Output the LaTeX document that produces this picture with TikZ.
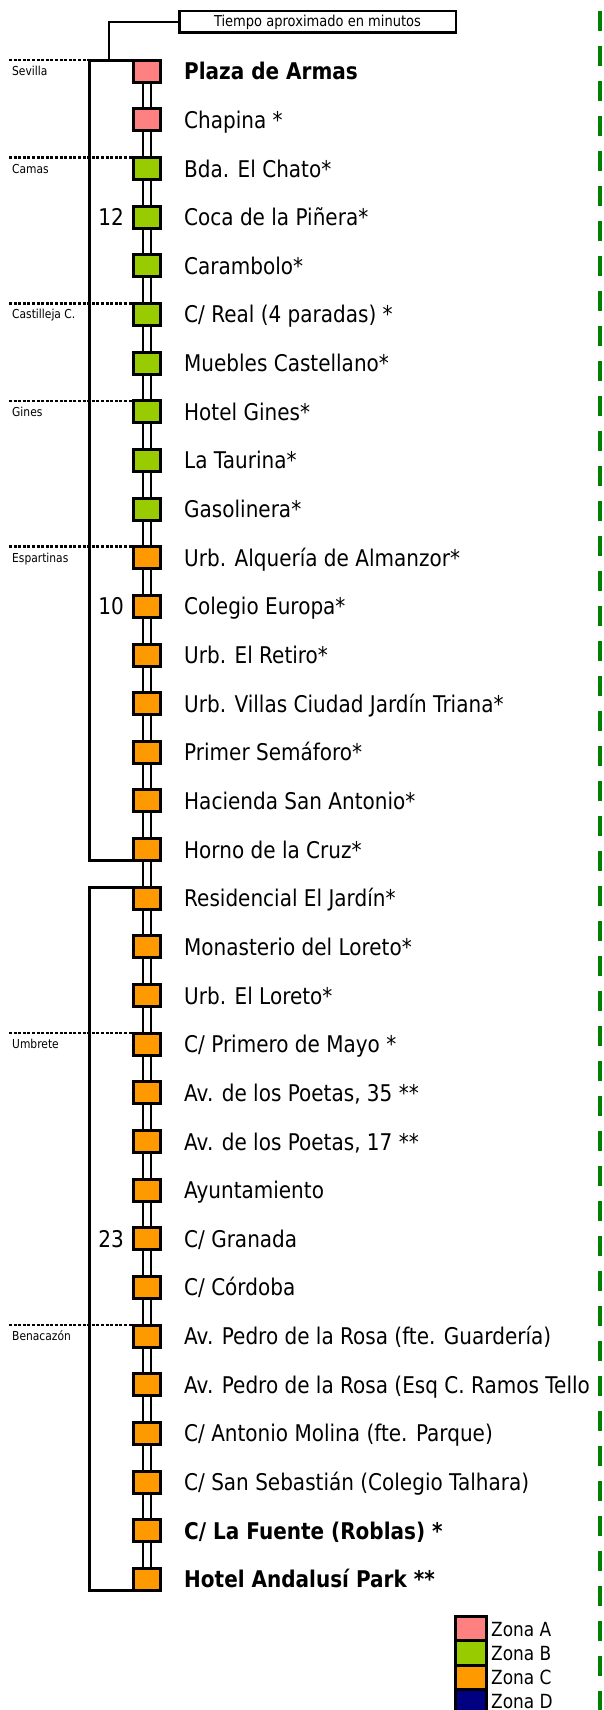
\documentclass[tikz,border=0pt]{standalone}
\usepackage{fontspec}
\setmainfont{DejaVu Sans}[FakeStretch=0.87]
\definecolor{zA}{RGB}{255,128,128}
\definecolor{zB}{RGB}{153,204,0}
\definecolor{zC}{RGB}{255,153,0}
\definecolor{zD}{RGB}{0,0,128}
\definecolor{dgreen}{RGB}{0,128,0}
\newcommand{\bstop}[3]{%
  \node[stopbox,fill=#2] (s#1) at (147,{71.2+48.65*#1}) {};
  \node[lbl] (l#1) at (184,{79.7+48.65*#1}) {#3};
}
\newcommand{\townsep}[2]{%
  \draw[dotl] (s#1.north west -| dl) -- (s#1.north west);
  \node[townlbl] (t#1) at (12,{75.7+48.65*#1}) {#2};
}
\newcommand{\minutes}[2]{%
  \node[numlbl] (n#1) at (124,{79.7+48.65*#1}) {#2};
}
\begin{document}
\begin{tikzpicture}[x=1pt,y=-1pt,
  stopbox/.style={draw=black,line width=3pt,minimum width=27pt,minimum height=22pt,inner sep=0pt,outer sep=0pt},
  lbl/.style={anchor=base west,inner sep=0pt,font=\fontsize{23}{26}\selectfont},
  numlbl/.style={anchor=base east,inner sep=0pt,font=\fontsize{23}{26}\selectfont},
  townlbl/.style={anchor=base west,inner sep=0pt,font=\fontsize{12.3}{14}\selectfont},
  conn/.style={line width=2.7pt},
  brk/.style={line width=3pt,line join=miter},
  dotl/.style={line width=2.5pt,dash pattern=on 3pt off 1.6pt},
  leader/.style={line width=1.3pt},
  legbox/.style={draw=black,line width=3pt,minimum width=31pt,minimum height=24.3pt,inner sep=0pt,outer sep=0pt},
  leglbl/.style={anchor=base west,inner sep=0pt,font=\fontsize{19.5}{22}\selectfont},
  tbox/.style={draw=black,line width=2.5pt,minimum width=276.5pt,minimum height=21.5pt,inner sep=0pt,font=\fontsize{15}{17}\selectfont}]
\useasboundingbox (0,0) rectangle (603,1710);
\fill[white] (0,0) rectangle (603,1710);
\coordinate (dl) at (9,0);
\coordinate (bx) at (89,0);
\coordinate (lead) at (109,0);
\coordinate (gtop) at (600,11);
\coordinate (gbot) at (600,1715);

% stops
\bstop{0}{zA}{\bfseries Plaza de Armas}
\bstop{1}{zA}{Chapina *}
\bstop{2}{zB}{Bda. El Chato*}
\bstop{3}{zB}{Coca de la Piñera*}
\bstop{4}{zB}{Carambolo*}
\bstop{5}{zB}{C/ Real (4 paradas) *}
\bstop{6}{zB}{Muebles Castellano*}
\bstop{7}{zB}{Hotel Gines*}
\bstop{8}{zB}{La Taurina*}
\bstop{9}{zB}{Gasolinera*}
\bstop{10}{zC}{Urb. Alquería de Almanzor*}
\bstop{11}{zC}{Colegio Europa*}
\bstop{12}{zC}{Urb. El Retiro*}
\bstop{13}{zC}{Urb. Villas Ciudad Jardín Triana*}
\bstop{14}{zC}{Primer Semáforo*}
\bstop{15}{zC}{Hacienda San Antonio*}
\bstop{16}{zC}{Horno de la Cruz*}
\bstop{17}{zC}{Residencial El Jardín*}
\bstop{18}{zC}{Monasterio del Loreto*}
\bstop{19}{zC}{Urb. El Loreto*}
\bstop{20}{zC}{C/ Primero de Mayo *}
\bstop{21}{zC}{Av. de los Poetas, 35 **}
\bstop{22}{zC}{Av. de los Poetas, 17 **}
\bstop{23}{zC}{Ayuntamiento}
\bstop{24}{zC}{C/ Granada}
\bstop{25}{zC}{C/ Córdoba}
\bstop{26}{zC}{Av. Pedro de la Rosa (fte. Guardería)}
\bstop{27}{zC}{Av. Pedro de la Rosa (Esq C. Ramos Tello}
\bstop{28}{zC}{C/ Antonio Molina (fte. Parque)}
\bstop{29}{zC}{C/ San Sebastián (Colegio Talhara)}
\bstop{30}{zC}{\bfseries C/ La Fuente (Roblas) *}
\bstop{31}{zC}{\bfseries Hotel Andalusí Park **}

% double connectors between consecutive stops
\foreach \a [evaluate=\a as \b using int(\a+1)] in {0,...,30}{
  \draw[conn] ([xshift=-4pt]s\a.south) -- ([xshift=-4pt]s\b.north);
  \draw[conn] ([xshift=4pt]s\a.south) -- ([xshift=4pt]s\b.north);
}

% brackets
\draw[brk] (s0.north west) -- (s0.north west -| bx) -- (s16.south west -| bx) -- (s16.south west);
\draw[brk] (s17.north west) -- (s17.north west -| bx) -- (s31.south west -| bx) -- (s31.south west);

% time box and leader
\node[tbox] (tb) at (317.5,22) {Tiempo aproximado en minutos};
\draw[leader] (s0.north west -| lead) |- (tb.west);

% minutes
\minutes{3}{12}
\minutes{11}{10}
\minutes{24}{23}

% municipality separators
\townsep{0}{Sevilla}
\townsep{2}{Camas}
\townsep{5}{Castilleja C.}
\townsep{7}{Gines}
\townsep{10}{Espartinas}
\townsep{20}{Umbrete}
\townsep{26}{Benacazón}

% legend
\node[legbox,fill=zA] (ga) at (471,1628.65) {};
\node[legbox,fill=zB] (gb) at (471,1652.95) {};
\node[legbox,fill=zC] (gc) at (471,1677.25) {};
\node[legbox,fill=zD] (gd) at (471,1701.55) {};
\node[leglbl] (ta) at (491,1636.15) {Zona A};
\node[leglbl] (tbb) at (491,1660.45) {Zona B};
\node[leglbl] (tc) at (491,1684.75) {Zona C};
\node[leglbl] (td) at (491,1708.3) {Zona D};

% green dashed line
\draw[dgreen,line width=4.3pt,dash pattern=on 20pt off 15pt] (gtop) -- (gbot);
\end{tikzpicture}
\end{document}
